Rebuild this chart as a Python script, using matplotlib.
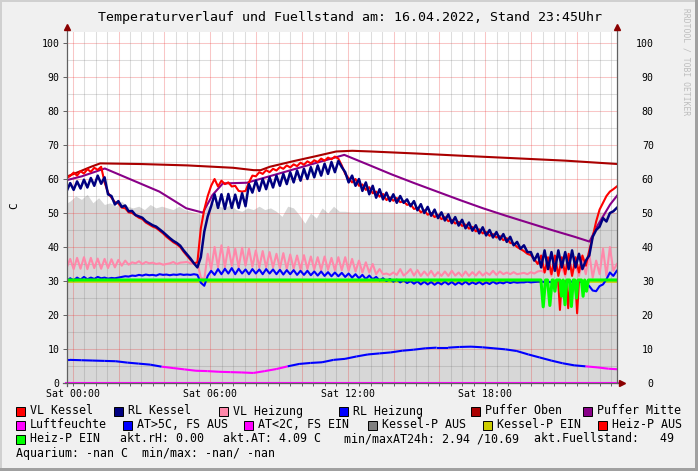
import numpy as np
import matplotlib
matplotlib.use("Agg")
import matplotlib.pyplot as plt
from matplotlib.patches import Rectangle
from matplotlib.collections import LineCollection

# ---------------- data ----------------
title = "Temperaturverlauf und Fuellstand am: 16.04.2022, Stand 23:45Uhr"
tick_hours = [0, 6, 12, 18]
tick_labels = ["Sat 00:00", "Sat 06:00", "Sat 12:00", "Sat 18:00"]

# fine sample grid (hours), 9-minute steps
fine_hours = -0.26 + 0.15 * np.arange(161)

vl_kessel = [
    60.3, 60.9, 61.9, 61.0, 62.3, 61.6, 62.9, 62.1, 63.3, 62.7, 63.6, 59.0, 56.0, 54.5, 53.2, 52.8, 51.6, 51.4, 50.2, 50.0,
    49.3, 48.6, 48.2, 47.2, 46.6, 46.0, 45.6, 44.8, 44.0, 43.0, 42.2, 41.4, 40.8, 40.0, 38.6, 37.4, 36.2, 35.2, 35.5, 45.5,
    51.0, 55.0, 58.0, 60.0, 57.8, 59.5, 58.5, 59.0, 57.8, 58.0, 56.5, 56.3, 56.5, 59.0, 61.0, 60.8, 62.0, 61.5, 62.6, 62.0,
    63.0, 62.5, 63.5, 63.0, 64.0, 63.4, 64.3, 63.8, 64.8, 64.2, 65.2, 64.6, 65.5, 65.0, 66.0, 65.4, 66.3, 65.8, 66.6, 66.0,
    64.0, 61.5, 60.2, 59.0, 60.0, 58.0, 58.4, 56.8, 57.6, 55.8, 56.3, 54.8, 55.6, 53.8, 54.6, 53.6, 54.4, 53.2, 53.4, 52.4,
    52.6, 51.2, 51.5, 50.2, 50.8, 49.5, 50.0, 48.8, 49.4, 48.2, 48.8, 47.6, 48.0, 46.9, 47.4, 46.2, 46.6, 45.4, 45.9, 44.6,
    45.2, 44.0, 44.4, 43.3, 43.8, 42.8, 43.2, 42.0, 42.6, 41.2, 41.0, 40.0, 39.4, 38.8, 38.0, 37.6, 36.5, 35.0, 37.5, 32.5,
    37.0, 32.0, 37.5, 31.5, 37.0, 32.0, 38.0, 31.5, 37.0, 32.5, 37.5, 34.5, 39.0, 43.0, 47.5, 51.0, 53.0, 55.0, 56.3, 57.0,
    57.8,
]
rl_kessel = [
    56.5, 58.8, 56.8, 59.3, 57.2, 59.8, 57.5, 60.3, 58.0, 61.0, 58.6, 60.5, 55.5, 55.0, 52.5, 53.5, 51.8, 52.2, 50.5, 50.6,
    49.4, 49.0, 48.6, 47.6, 47.0, 46.4, 46.0, 45.2, 44.4, 43.5, 42.6, 41.8, 41.2, 40.4, 39.0, 37.8, 36.6, 35.2, 34.0, 37.0,
    44.5, 49.0, 52.0, 55.5, 51.5, 55.5, 51.2, 55.6, 51.5, 55.4, 51.5, 55.8, 52.0, 58.5, 56.0, 59.5, 56.5, 60.0, 57.0, 60.5,
    57.5, 61.0, 58.0, 61.5, 58.5, 62.0, 59.0, 62.5, 59.5, 63.0, 60.0, 63.5, 60.5, 64.0, 61.0, 64.5, 61.5, 65.0, 62.0, 65.3,
    63.5, 62.0, 59.0, 61.0, 58.0, 60.0, 56.5, 59.0, 55.5, 58.0, 54.5, 57.0, 54.0, 56.0, 53.5, 55.5, 53.0, 55.0, 53.0, 54.0,
    52.0, 53.5, 50.8, 52.6, 50.0, 51.8, 49.2, 51.0, 48.5, 50.2, 47.8, 49.6, 47.0, 48.8, 46.3, 48.0, 45.5, 47.2, 44.8, 46.4,
    44.0, 45.8, 43.4, 45.0, 42.8, 44.4, 42.2, 43.8, 41.5, 43.0, 40.5, 41.5, 39.5, 40.5, 38.5, 38.5, 36.0, 38.0, 34.0, 39.0,
    33.5, 38.5, 33.0, 39.0, 34.0, 38.5, 33.5, 39.0, 34.0, 38.0, 33.5, 36.0, 37.5, 43.0, 45.0, 46.0, 48.5, 47.5, 50.0, 50.5,
    51.5,
]
vl_heizung = [
    34.0, 36.5, 33.5, 36.8, 33.6, 37.0, 33.5, 36.8, 33.8, 36.6, 33.6, 36.5, 33.8, 36.4, 34.0, 36.2, 34.5, 36.0, 34.8, 35.5,
    35.2, 35.8, 35.0, 35.6, 35.2, 35.4, 35.0, 35.2, 34.8, 35.0, 35.2, 35.6, 35.0, 35.4, 35.5, 35.6, 35.2, 35.0, 35.4, 31.0,
    30.5, 38.0, 33.5, 40.0, 34.0, 40.5, 34.0, 40.0, 34.5, 39.5, 34.0, 39.8, 34.5, 39.5, 34.2, 39.0, 34.0, 38.8, 34.0, 38.5,
    34.0, 38.0, 33.8, 38.2, 33.5, 37.8, 33.6, 37.5, 33.4, 37.6, 33.5, 37.2, 33.4, 37.0, 33.2, 37.2, 33.3, 36.8, 33.2, 37.0,
    33.2, 37.0, 33.0, 36.5, 32.8, 36.0, 32.5, 35.5, 32.5, 35.0, 32.0, 33.5, 32.0, 32.2, 31.8, 32.5, 31.8, 33.5, 31.6, 32.4,
    33.5, 31.6, 33.2, 31.5, 32.8, 31.6, 33.0, 31.4, 32.6, 31.5, 32.8, 31.5, 33.0, 31.6, 32.5, 31.4, 32.8, 31.5, 32.6, 31.6,
    32.8, 31.6, 32.5, 31.8, 33.0, 31.8, 32.8, 32.0, 32.5, 32.0, 32.6, 32.0, 32.2, 32.4, 32.0, 32.6, 32.2, 32.8, 33.0, 32.5,
    34.5, 31.5, 36.5, 32.0, 34.0, 31.5, 37.0, 32.0, 35.0, 31.5, 36.0, 32.0, 38.0, 31.0, 36.0, 32.0, 39.5, 31.5, 40.0, 33.0,
    35.0,
]
rl_heizung = [
    30.0, 30.8, 30.2, 31.0, 30.4, 31.2, 30.5, 31.0, 30.6, 31.2, 30.8, 31.0, 30.7, 30.9, 30.8, 31.0, 31.2, 31.4, 31.3, 31.6,
    31.5, 31.8, 31.6, 31.9, 31.7, 31.8, 31.6, 32.0, 31.8, 31.9, 31.7, 31.9, 31.8, 32.0, 31.8, 31.9, 31.8, 32.0, 31.8, 29.5,
    28.6, 31.5, 33.0, 31.8, 33.5, 32.0, 33.6, 32.2, 33.8, 32.0, 33.6, 32.2, 33.4, 32.0, 33.5, 32.2, 33.4, 32.0, 33.5, 32.2,
    33.4, 32.0, 33.3, 31.9, 33.2, 32.0, 33.2, 31.8, 33.0, 31.8, 33.0, 31.7, 32.8, 31.6, 32.8, 31.5, 32.6, 31.4, 32.5, 31.4,
    32.4, 31.2, 32.2, 31.0, 32.0, 30.8, 31.8, 30.6, 31.6, 30.5, 31.2, 30.2, 30.8, 30.0, 30.6, 29.8, 30.4, 29.6, 30.2, 29.4,
    30.0, 29.2, 29.9, 29.0, 29.8, 29.0, 29.7, 28.9, 29.6, 29.0, 29.8, 29.0, 29.7, 28.9, 29.6, 29.0, 29.8, 29.0, 29.6, 29.1,
    29.7, 29.0, 29.6, 29.1, 29.8, 29.2, 29.6, 29.3, 29.8, 29.4, 29.7, 29.5, 29.6, 29.6, 29.8, 29.6, 29.7, 29.8, 29.8, 29.7,
    29.8, 29.6, 29.8, 29.7, 29.6, 29.8, 29.7, 29.8, 29.6, 29.7, 29.8, 29.4, 28.5, 27.2, 27.0, 28.5, 29.0, 30.5, 32.5, 31.5,
    33.0,
]

puffer_oben_hours = [-0.3, 0.3, 0.8, 1.2, 3.0, 5.0, 7.0, 7.9, 8.2, 8.6, 9.6, 10.6, 11.5, 12.2, 13.0, 15.0, 17.1, 19.0, 21.5, 23.8]
puffer_oben = [60.6, 62.2, 63.6, 64.6, 64.4, 64.0, 63.3, 62.6, 62.6, 63.6, 65.2, 66.7, 68.1, 68.3, 68.1, 67.5, 66.8, 66.2, 65.4, 64.4]

puffer_mitte_hours = [-0.3, 0.4, 1.4, 3.78, 4.95, 5.68, 6.1, 6.55, 7.6, 11.85, 12.9, 13.9, 14.9, 15.9, 16.9, 17.9,
                      18.9, 19.9, 20.9, 21.9, 22.55, 22.9, 23.45, 23.8]
puffer_mitte = [59.6, 60.8, 63.1, 56.3, 51.4, 50.1, 55.3, 58.7, 58.9, 67.1, 64.2, 61.4, 58.8, 56.3, 53.8, 51.4,
                49.2, 47.1, 45.0, 43.0, 41.6, 46.3, 52.5, 55.5]

# outside temperature (half-hour samples)
at_hours = -0.62 + 0.5 * np.arange(50)
aussen_temp = [6.8, 6.8, 6.7, 6.6, 6.5, 6.4, 6.0, 5.7, 5.4, 4.8, 4.4, 4.0, 3.6, 3.5, 3.3, 3.2, 3.1, 2.95, 3.5, 4.1,
               4.9, 5.6, 5.9, 6.1, 6.8, 7.1, 7.8, 8.4, 8.7, 9.0, 9.5, 9.8, 10.2, 10.4, 10.4, 10.6, 10.69, 10.5, 10.2, 9.9,
               9.4, 8.4, 7.5, 6.6, 5.8, 5.2, 4.9, 4.6, 4.2, 4.0]
at_threshold = 5.0

luftfeuchte_hours = [-0.3, 23.8]
luftfeuchte = [0.0, 0.0]

kessel_p_aus_hours = list(-0.37 + 0.25 * np.arange(51)) + [23.8]
kessel_p_aus = [52.5, 53.5, 55.0, 54.0, 55.5, 53.0, 54.5, 52.5, 53.0, 52.0, 53.5, 52.0, 51.5, 52.0, 51.0, 52.5, 51.5,
                52.0, 51.5, 51.0, 52.0, 51.0, 50.5, 50.0, 49.5, 52.0, 53.0, 52.0, 51.5, 52.5, 51.0, 50.5, 51.5, 51.0,
                52.0, 51.0, 51.5, 50.5, 49.0, 52.0, 51.5, 49.5, 47.0, 50.0, 48.5, 51.5, 50.0, 52.0, 50.5, 50.5, 50.3,
                50.3]

kessel_p_ein_hours = [-0.3, 23.8]
kessel_p_ein = [29.8, 29.8]

heiz_p_aus_hours = [21.18, 21.26, 21.34, 21.44, 21.54, 21.62, 21.7, 21.8, 21.93, 22.01, 22.09]
heiz_p_aus = [30.0, 21.5, 30.0, np.nan, 30.0, 22.0, 30.0, np.nan, 30.0, 20.5, 30.0]

heiz_p_ein_hours = [-0.3, 20.43, 20.53, 20.63, 20.72, 20.82, 20.92, 20.97, 21.04, 21.11, 21.26, 21.33, 21.4, 21.48,
                    21.56, 21.68, 21.76, 21.84, 21.91, 21.98, 22.05, 22.2, 22.27, 22.34, 22.42, 22.5, 23.8]
heiz_p_ein = [30.3, 30.3, 22.4, 30.3, 30.3, 22.8, 30.3, 30.3, 27.0, 30.3, 30.3, 25.5, 30.3, 23.0, 30.3, 30.3, 22.5,
              30.3, 30.3, 25.0, 30.3, 30.3, 25.5, 30.3, 27.0, 30.3, 30.3]

legend_rows = [
    [("VL Kessel", "#FF0000"), ("RL Kessel", "#000080"), ("VL Heizung", "#FF88AA"),
     ("RL Heizung", "#0000FF"), ("Puffer Oben", "#AA0000"), ("Puffer Mitte", "#880088")],
    [("Luftfeuchte", "#FF00FF"), ("AT>5C, FS AUS", "#0000FF"), ("AT<2C, FS EIN", "#FF00FF"),
     ("Kessel-P AUS", "#808080"), ("Kessel-P EIN", "#CCCC00"), ("Heiz-P AUS", "#FF0000")],
    [("Heiz-P EIN", "#00FF00")],
]
info_texts = ["akt.rH: 0.00", "akt.AT: 4.09 C", "min/maxAT24h: 2.94 /10.69", "akt.Fuellstand:   49"]
aquarium_text = "Aquarium: -nan C  min/max: -nan/ -nan"

# ---------------- layout ----------------
W, H = 698, 471
MONO = "DejaVu Sans Mono"
fig = plt.figure(figsize=(W / 100, H / 100), dpi=100, facecolor="#F0F0F0")


def fx(px):
    return px / W


def fy(py):
    return 1 - py / H


# frame of the image
fig.add_artist(Rectangle((0, fy(2)), 1, 2 / H, transform=fig.transFigure, color="#D0D0D0", lw=0))
fig.add_artist(Rectangle((0, 0), 2 / W, 1, transform=fig.transFigure, color="#D0D0D0", lw=0))
fig.add_artist(Rectangle((0, 0), 1, 3 / H, transform=fig.transFigure, color="#A0A0A0", lw=0))
fig.add_artist(Rectangle((fx(695), 0), 3 / W, 1, transform=fig.transFigure, color="#A0A0A0", lw=0))

ax = fig.add_axes([fx(67), fy(383), fx(617) - fx(67), fy(32) - fy(383)])
ax.set_facecolor("white")
ax.set_xlim(-0.25, 23.75)
ax.set_ylim(0, 103.24)
for s in ax.spines.values():
    s.set_visible(False)

# gray area
ax.fill_between(kessel_p_aus_hours, 0, kessel_p_aus, color="#D7D7D7", lw=0, zorder=1)

# grid
minor_c = (0.45, 0.45, 0.45, 0.24)
major_c = (0.92, 0.15, 0.15, 0.26)
for yv in range(5, 105, 5):
    ax.axhline(yv, color=major_c if yv % 10 == 0 else minor_c, lw=0.75, zorder=1.5)
for k in range(0, 48):
    xv = 0.5 * k
    ax.axvline(xv, color=major_c if k % 4 == 0 else minor_c, lw=0.75, zorder=1.5)

lw2 = 1.5
# outside temperature, colored by threshold
at = np.array(aussen_temp)
pts = np.column_stack([at_hours, at])
segs = np.stack([pts[:-1], pts[1:]], axis=1)
seg_cols = ["#FF00FF" if (a + b) / 2 < at_threshold else "#0000FF" for a, b in zip(at[:-1], at[1:])]
ax.add_collection(LineCollection(segs, colors=seg_cols, linewidths=lw2, zorder=3))

ax.plot(luftfeuchte_hours, luftfeuchte, color="#FF00FF", lw=lw2, zorder=3, clip_on=False)
ax.plot(kessel_p_ein_hours, kessel_p_ein, color="#CCCC00", lw=1.2, zorder=3)
ax.plot(fine_hours, vl_heizung, color="#FF88AA", lw=lw2, zorder=3.2)
ax.plot(fine_hours, rl_heizung, color="#0000FF", lw=lw2, zorder=3.3)
ax.plot(heiz_p_aus_hours, heiz_p_aus, color="#FF0000", lw=lw2, zorder=3.4)
ax.plot(heiz_p_ein_hours, heiz_p_ein, color="#00FF00", lw=2.2, zorder=3.5)
ax.plot(puffer_oben_hours, puffer_oben, color="#AA0000", lw=lw2, zorder=3.6)
ax.plot(puffer_mitte_hours, puffer_mitte, color="#880088", lw=lw2, zorder=3.7)
ax.plot(fine_hours, vl_kessel, color="#FF0000", lw=lw2, zorder=3.8)
ax.plot(fine_hours, rl_kessel, color="#000080", lw=1.8, zorder=3.9)

# axes lines and arrows
axis_c = "#606060"
arrow_c = "#8B0000"
ax.plot([0, 0], [-0.008, 1.012], transform=ax.transAxes, color=axis_c, lw=0.9, clip_on=False, zorder=5)
ax.plot([1, 1], [0, 1.012], transform=ax.transAxes, color=axis_c, lw=0.9, clip_on=False, zorder=5)
ax.plot([-0.007, 1.006], [0, 0], transform=ax.transAxes, color=axis_c, lw=0.9, clip_on=False, zorder=5)
ax.plot([0], [1.014], transform=ax.transAxes, marker="^", ms=4, color=arrow_c, clip_on=False, zorder=6)
ax.plot([1], [1.014], transform=ax.transAxes, marker="^", ms=4, color=arrow_c, clip_on=False, zorder=6)
ax.plot([1.009], [0], transform=ax.transAxes, marker=">", ms=4, color=arrow_c, clip_on=False, zorder=6)

# ticks
ax.set_xticks(tick_hours)
ax.set_xticklabels(tick_labels, family=MONO, fontsize=7.1)
ax.set_xticks(np.arange(0, 24, 0.5), minor=True)
ax.tick_params(axis="x", which="both", length=2, width=0.7, color=axis_c, pad=2.4)
yt = np.arange(0, 101, 10)
ax.set_yticks(yt)
ax.set_yticklabels([str(v) for v in yt], family=MONO, fontsize=7.1)
ax.tick_params(axis="y", length=3, width=0.7, color=axis_c, pad=2.2)

ax2 = ax.twinx()
ax2.set_ylim(ax.get_ylim())
for s in ax2.spines.values():
    s.set_visible(False)
ax2.set_yticks(yt)
ax2.set_yticklabels([str(v) for v in yt], family=MONO, fontsize=7.1)
ax2.tick_params(axis="y", length=0, pad=26.5)
for lbl in ax2.get_yticklabels():
    lbl.set_horizontalalignment("right")

# texts
fig.text(fx(350), fy(17), title, ha="center", va="center", family=MONO, fontsize=9.5, color="black")
fig.text(fx(14), fy(206), "C", ha="center", va="center", rotation=90, family=MONO, fontsize=8)
fig.text(fx(686), fy(62), "RRDTOOL / TOBI OETIKER", ha="center", va="center", rotation=270,
         family=MONO, fontsize=5.8, color="#BDBDBD")

row_y = [411, 425, 439, 453]
box_x = [[16, 114, 219, 339, 471, 583], [16, 123, 244, 368, 483, 598], [16]]
for r, items in enumerate(legend_rows):
    for (lab, col), bx in zip(items, box_x[r]):
        fig.add_artist(Rectangle((fx(bx), fy(row_y[r] + 4.5)), 9 / W, 9 / H, transform=fig.transFigure,
                                 facecolor=col, edgecolor="black", lw=0.7))
        fig.text(fx(bx + 14), fy(row_y[r]), lab, ha="left", va="center", family=MONO, fontsize=8.4)
for txt, tx in zip(info_texts, [120, 223, 344, 534]):
    fig.text(fx(tx), fy(row_y[2]), txt, ha="left", va="center", family=MONO, fontsize=8.4)
fig.text(fx(16), fy(row_y[3]), aquarium_text, ha="left", va="center", family=MONO, fontsize=8.4)

fig.savefig("out.png", dpi=100, facecolor=fig.get_facecolor())
